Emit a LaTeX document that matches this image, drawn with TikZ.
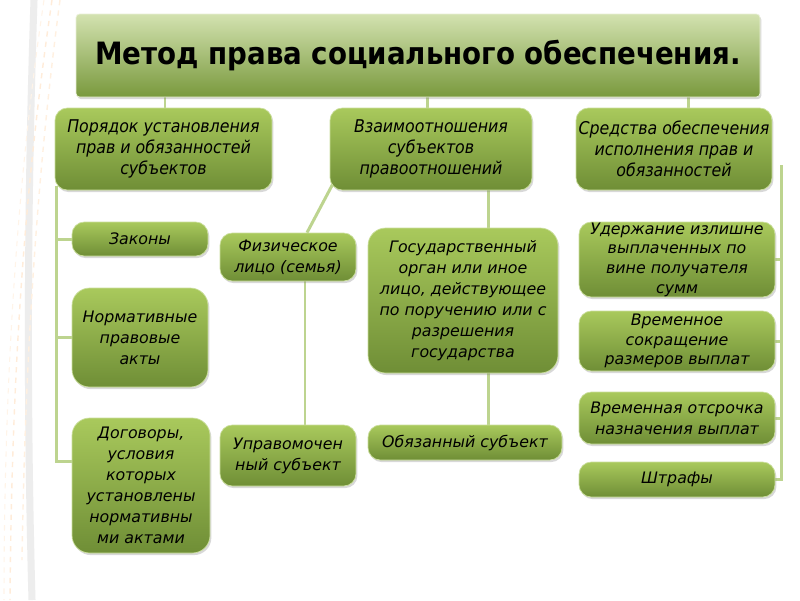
\documentclass[tikz,border=0pt]{standalone}
\usepackage{fontspec}
\setmainfont{DejaVu Sans}
\newfontfamily\condfont{DejaVu Sans Condensed}
\usetikzlibrary{positioning, calc, shadows, backgrounds}
\definecolor{boxtop}{HTML}{A9C95C}
\definecolor{boxbot}{HTML}{6F8E36}
\definecolor{headtop}{HTML}{D3E2B0}
\definecolor{headbot}{HTML}{79993D}
\definecolor{linegreen}{HTML}{BDD48F}
\tikzset{
  headbox/.style={rectangle, rounded corners=2pt, top color=headtop, bottom color=headbot, draw=headtop!50!white, text=black, font=\condfont\bfseries\fontsize{17.5}{21}\selectfont, drop shadow={shadow xshift=0.8pt, shadow yshift=-1.2pt, opacity=0.3}},
  groupbox/.style={rectangle, rounded corners=7pt, top color=boxtop, bottom color=boxbot, draw=boxtop!60!white, align=center, inner sep=1pt, font=\condfont\itshape\fontsize{10}{11.9}\selectfont, drop shadow={shadow xshift=0.8pt, shadow yshift=-1.2pt, opacity=0.3}},
  itembox/.style={groupbox, font=\itshape\fontsize{9}{12}\selectfont},
  bigbox/.style={itembox, rounded corners=10pt},
  link/.style={linegreen, line width=1.7pt}
}
\begin{document}
\begin{tikzpicture}[x=0.02cm, y=-0.02cm]
    \path[use as bounding box] (0,0) rectangle (800,600);

    % Заголовок
    \node[headbox, minimum width=13.68cm, minimum height=1.66cm] (title) at (418,55.5) {Метод права социального обеспечения.};

    % Три основных блока
    \node[groupbox, minimum width=4.34cm, minimum height=1.64cm] (order) at (163.5,149) {Порядок установления\\прав и обязанностей\\субъектов};
    \node[groupbox, minimum width=4.04cm, minimum height=1.64cm] (relation) at (431,149) {Взаимоотношения\\субъектов\\правоотношений};
    \node[groupbox, minimum width=3.92cm, minimum height=1.64cm] (means) at (674,149) {Средства обеспечения\\исполнения прав и\\обязанностей};

    % Левая колонка
    \node[itembox, minimum width=2.72cm, minimum height=0.68cm] (laws) at (140,239) {Законы};
    \node[bigbox, minimum width=2.72cm, minimum height=1.98cm] (norms) at (140,337.5) {Нормативные\\правовые\\акты};
    \node[bigbox, minimum width=2.76cm, minimum height=2.7cm] (contracts) at (141,485.5) {Договоры,\\условия\\которых\\установлены\\нормативны\\ми актами};

    % Средняя часть
    \node[itembox, minimum width=2.72cm, minimum height=0.96cm] (person) at (288,257) {Физическое\\лицо (семья)};
    \node[itembox, minimum width=2.72cm, minimum height=1.22cm] (entitled) at (288,455.5) {Управомочен\\ный субъект};
    \node[bigbox, minimum width=3.8cm, minimum height=2.9cm] (state) at (463,300.5) {Государственный\\орган или иное\\лицо, действующее\\по поручению или с\\разрешения\\государства};
    \node[itembox, minimum width=3.88cm, minimum height=0.7cm] (obliged) at (465,442.5) {Обязанный субъект};

    % Правая колонка
    \node[itembox, minimum width=3.92cm, minimum height=1.5cm, inner ysep=0pt, font=\itshape\fontsize{9}{11.2}\selectfont] (retention) at (677,259.5) {Удержание излишне\\выплаченных по\\вине получателя\\сумм};
    \node[itembox, minimum width=3.92cm, minimum height=1.2cm, inner ysep=0pt, font=\itshape\fontsize{9}{11.2}\selectfont] (reduce) at (677,341) {Временное\\сокращение\\размеров выплат};
    \node[itembox, minimum width=3.92cm, minimum height=1.04cm] (delay) at (677,418) {Временная отсрочка\\назначения выплат};
    \node[itembox, minimum width=3.92cm, minimum height=0.7cm] (fines) at (677,479.5) {Штрафы};

    \begin{scope}[on background layer]
        \fill[white] (0,0) rectangle (800,600);
        % фон слева
        \draw[gray!14, line width=4pt] (34,0) .. controls (28,180) and (26,380) .. (32,600);
        \draw[orange!15, line width=0.8pt, dashed] (52,0) .. controls (30,150) and (12,330) .. (10,600);
        \draw[orange!12, line width=0.8pt, dashed] (60,0) .. controls (44,120) and (26,300) .. (22,560);
        \draw[orange!9, line width=0.6pt, dashed] (44,0) .. controls (20,160) and (4,360) .. (4,600);

        % связи от заголовка
        \foreach \dx/\n in {1.5/order, -4/relation, 14/means}
            \draw[link] ($(\n.north)+(\dx,0)$) -- ($(title.south -| \n.north)+(\dx,0)$);

        % левая шина
        \coordinate (lbus) at ($(order.south west)+(2,-4)$);
        \draw[link] (lbus) |- ($(contracts.west)+(0,-24)$);
        \foreach \n in {laws, norms}
            \draw[link] (\n.west) -- (\n.west -| lbus);

        % средняя часть
        \draw[link] ($(person.north)+(19,0)$) -- ($(relation.south west)+(4,-8)$);
        \draw[link] ($(person.south)+(17,0)$) -- ($(entitled.north)+(17,0)$);
        \draw[link] ($(relation.south)+(57,0)$) -- ($(state.north)+(25,0)$);
        \draw[link] ($(state.south)+(25,0)$) -- ($(obliged.north)+(23,0)$);

        % правая шина
        \coordinate (rbus) at ($(means.east)+(9,16)$);
        \draw[link] (rbus) |- (fines.east);
        \foreach \n in {retention, reduce, delay}
            \draw[link] (\n.east) -- (\n.east -| rbus);
    \end{scope}
\end{tikzpicture}
\end{document}
